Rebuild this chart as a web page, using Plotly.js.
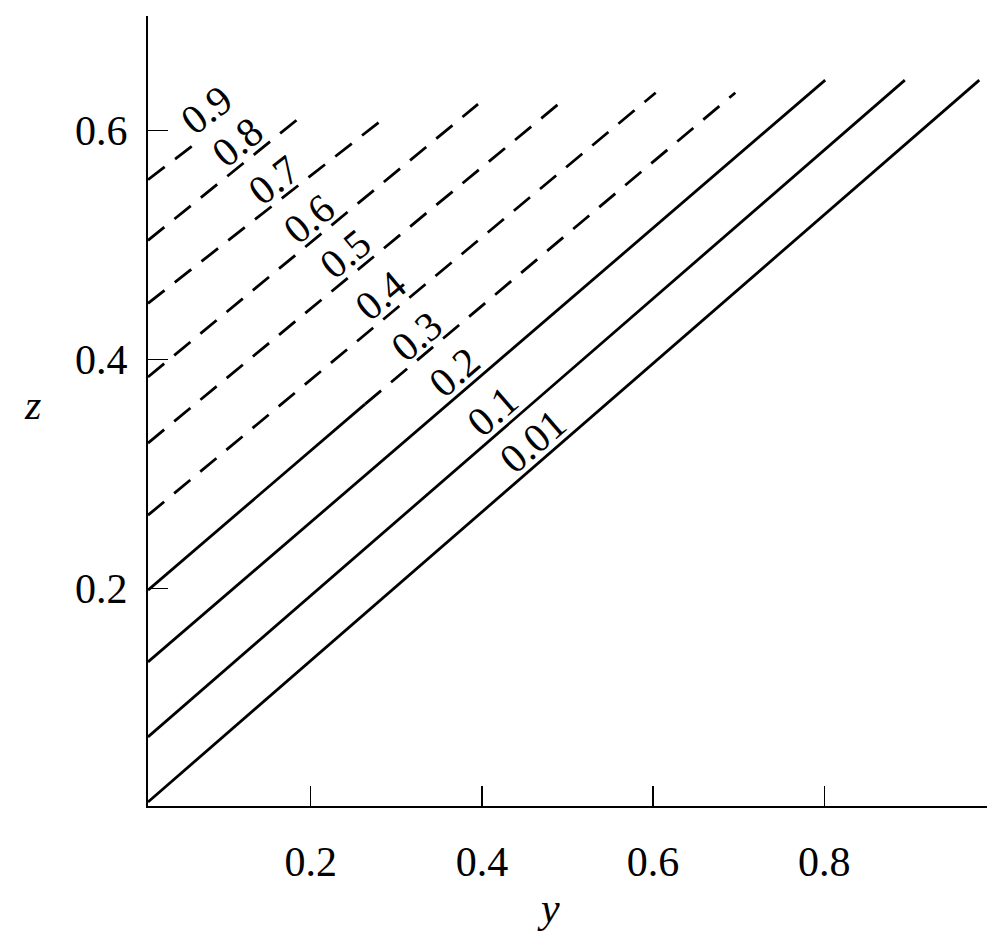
<!DOCTYPE html>
<html><head><meta charset="utf-8">
<script src="https://cdn.plot.ly/plotly-3.0.1.min.js"></script>
<style>html,body{margin:0;padding:0;background:#fff}#chart{width:999px;height:945px}</style>
</head><body><div id="chart"></div>
<script>
// contour levels and their straight-line traces (y = horizontal, z = vertical)
const levels   = ['0.01','0.1','0.2','0.3','0.4','0.5','0.6','0.7','0.8','0.9'];
const startY   = [0.01, 0.01, 0.01, 0.01, 0.01, 0.01, 0.01, 0.01, 0.01, 0.01];
const startZ   = [0.0135, 0.0703, 0.1358, 0.1986, 0.264, 0.327, 0.3847, 0.449, 0.504, 0.557];
const endY     = [0.981, 0.894, 0.801, 0.696, 0.603, 0.491, 0.3955, 0.2845, 0.1934, 0.0707];
const endZ     = [0.644, 0.644, 0.644, 0.633, 0.633, 0.624, 0.623, 0.610, 0.615, 0.5917];
// style: 'solid', 'dash', or 'mixed' (solid up to the break, dashed after)
const lineStyle = ['solid','solid','solid','mixed','dash','dash','dash','dash','dash','dash'];
const breakY   = [null, null, null, 0.2635, null, null, null, null, null, null];
const breakZ   = [null, null, null, 0.361, null, null, null, null, null, null];
// label placement along each line (horizontal coordinate of label foot)
const labelY   = [0.475, 0.428, 0.383, 0.339, 0.297, 0.255, 0.212, 0.171, 0.129, 0.092];
const xTicks = [0.2, 0.4, 0.6, 0.8];
const yTicks = [0.2, 0.4, 0.6];

const W = 999, H = 945;
const M = {l:148, r:12, t:16, b:139};
const xRange = [0.01, 0.99], yRange = [0.01, 0.70];
const pxX = (W - M.l - M.r) / (xRange[1]-xRange[0]);
const pxZ = (H - M.t - M.b) / (yRange[1]-yRange[0]);
const FONT = "'Liberation Serif', 'Times New Roman', Times, serif";
const DASH = '21px,13px';
const LW = 2.8;

const traces = [];
const annotations = [];
function seg(x0,z0,x1,z1,dash){
  traces.push({type:'scatter', mode:'lines', x:[x0,x1], y:[z0,z1],
    line:{color:'#000', width:LW, dash:dash}, hoverinfo:'skip', showlegend:false});
}
for (let i=0;i<levels.length;i++){
  if (lineStyle[i]==='mixed'){
    seg(startY[i],startZ[i],breakY[i],breakZ[i],'solid');
    seg(breakY[i],breakZ[i],endY[i],endZ[i],DASH);
  } else {
    seg(startY[i],startZ[i],endY[i],endZ[i], lineStyle[i]==='solid'?'solid':DASH);
  }
  const slope = (endZ[i]-startZ[i])/(endY[i]-startY[i]);
  const th = Math.atan(slope*pxZ/pxX);
  const lx = labelY[i];
  const lz = startZ[i] + slope*(lx-startY[i]);
  const d = 20;
  annotations.push({x:lx, y:lz, xref:'x', yref:'y', text:levels[i], showarrow:false,
    textangle: -th*180/Math.PI, xshift:-d*Math.sin(th), yshift:d*Math.cos(th),
    font:{family:FONT, size:41, color:'#000'}, xanchor:'center', yanchor:'middle'});
}
annotations.push({x:(548-M.l)/(W-M.l-M.r), y:-(908-(H-M.b))/(H-M.t-M.b), xref:'paper', yref:'paper',
  text:'<i>y</i>', showarrow:false, font:{family:FONT,size:42,color:'#000'}, xanchor:'center', yanchor:'middle'});
annotations.push({x:(32-M.l)/(W-M.l-M.r), y:((H-M.b)-405)/(H-M.t-M.b), xref:'paper', yref:'paper',
  text:'<i>z</i>', showarrow:false, font:{family:FONT,size:42,color:'#000'}, xanchor:'center', yanchor:'middle'});

const axisCommon = {showgrid:false, zeroline:false, showline:true, linecolor:'#000', linewidth:2.2,
  ticks:'inside', ticklen:20, tickwidth:1.5, tickcolor:'#000',
  tickfont:{family:FONT, size:42, color:'#000'}, fixedrange:true};
const layout = {
  width:W, height:H, margin:M, paper_bgcolor:'#fff', plot_bgcolor:'#fff', showlegend:false,
  font:{family:FONT, color:'#000'},
  xaxis:Object.assign({}, axisCommon, {range:xRange, tickvals:xTicks, ticktext:xTicks.map(v=>v.toFixed(1)), ticklabelstandoff:17}),
  yaxis:Object.assign({}, axisCommon, {range:yRange, tickvals:yTicks, ticktext:yTicks.map(v=>v.toFixed(1)), ticklabelstandoff:10}),
  annotations:annotations
};
Plotly.newPlot('chart', traces, layout, {displayModeBar:false, staticPlot:true});
</script></body></html>
